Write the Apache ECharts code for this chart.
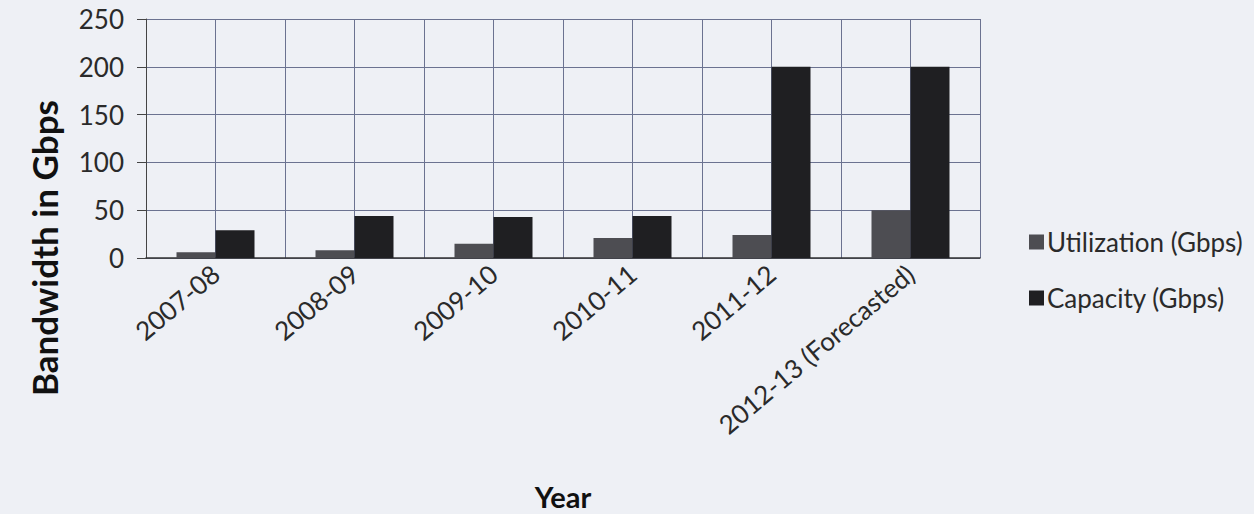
<!DOCTYPE html>
<html>
<head>
<meta charset="utf-8">
<script src="https://cdn.jsdelivr.net/npm/echarts@6/dist/echarts.min.js"></script>
<style>
  html, body { margin: 0; padding: 0; background: #eef0f5; }
  #chart { width: 1254px; height: 514px; }
</style>
</head>
<body>
<div id="chart"></div>
<script>
var years = ['2007-08', '2008-09', '2009-10', '2010-11', '2011-12', '2012-13 (Forecasted)'];
var utilization = [6, 8, 15, 21, 24, 50];
var capacity = [29, 44, 43, 44, 200, 200];
var halfSlots = ['', '', '', '', '', '', '', '', '', '', '', ''];

var ink = '#2a2a2a';
var grid = '#6b7290';
var font = 'Lato, "Noto Sans", sans-serif';

var chart = echarts.init(document.getElementById('chart'), null, { renderer: 'svg' });
chart.setOption({
  animation: false,
  backgroundColor: '#eef0f5',
  grid: { left: 146, right: 274, top: 19, bottom: 256 },
  legend: {
    orient: 'vertical', left: 1024, top: 224, itemGap: 30,
    itemWidth: 15, itemHeight: 15, icon: 'rect',
    textStyle: { color: ink, fontSize: 26, fontFamily: font, padding: [0, 0, 0, -2] },
    data: ['Utilization (Gbps)', 'Capacity (Gbps)']
  },
  xAxis: [{
    type: 'category', data: years,
    name: 'Year', nameLocation: 'middle', nameGap: 224,
    nameTextStyle: { color: '#111', fontSize: 29, fontWeight: 'bold', fontFamily: font },
    axisLine: { lineStyle: { color: '#333', width: 1.5 } },
    axisTick: { show: false },
    splitLine: { show: true, lineStyle: { color: grid, width: 1 } },
    axisLabel: { color: ink, fontSize: 26, fontFamily: font, rotate: 40, interval: 0, margin: 12 }
  }, {
    type: 'category', data: halfSlots, position: 'bottom',
    axisLine: { show: false }, axisTick: { show: false }, axisLabel: { show: false },
    splitLine: { show: true, lineStyle: { color: grid, width: 1 } }
  }],
  yAxis: {
    type: 'value', min: 0, max: 250, interval: 50,
    axisLine: { show: true, lineStyle: { color: '#444', width: 1 } },
    axisTick: { show: true, length: 9, lineStyle: { color: '#444' } },
    axisLabel: { color: ink, fontSize: 26, fontFamily: font, margin: 22 },
    splitLine: { lineStyle: { color: grid, width: 1 } }
  },
  graphic: [{
    type: 'text', x: 44, y: 248, rotation: Math.PI / 2,
    style: {
      text: 'Bandwidth in Gbps', fill: '#111', fontSize: 35, fontWeight: 'bold',
      fontFamily: font, align: 'center', verticalAlign: 'middle'
    }
  }],
  series: [
    { name: 'Utilization (Gbps)', type: 'bar', data: utilization, barWidth: 39, barGap: '0%',
      itemStyle: { color: '#4d4d52' } },
    { name: 'Capacity (Gbps)', type: 'bar', data: capacity, barWidth: 39, barGap: '0%',
      itemStyle: { color: '#1f1f22' } }
  ]
});
</script>
</body>
</html>
